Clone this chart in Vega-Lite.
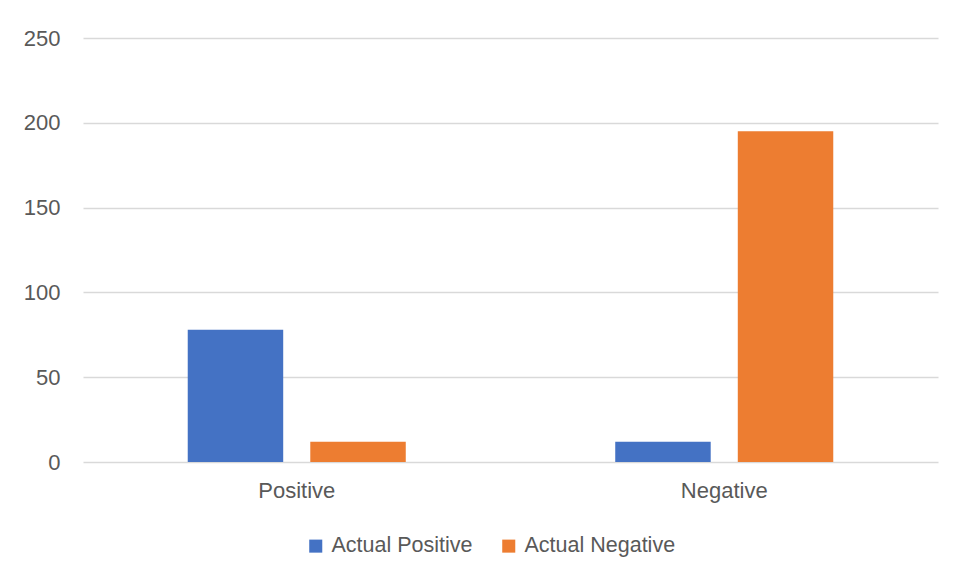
{
  "$schema": "https://vega.github.io/schema/vega-lite/v6.json",
  "width": 855,
  "height": 424,
  "autosize": {"type": "none"},
  "padding": {"left": 83, "top": 38, "right": 16, "bottom": 118},
  "background": "white",
  "data": {
    "values": [
      {"predicted": "Positive", "series": "Actual Positive", "count": 78},
      {"predicted": "Positive", "series": "Actual Negative", "count": 12},
      {"predicted": "Negative", "series": "Actual Positive", "count": 12},
      {"predicted": "Negative", "series": "Actual Negative", "count": 195}
    ]
  },
  "mark": {"type": "bar"},
  "encoding": {
    "x": {
      "field": "predicted",
      "type": "nominal",
      "sort": ["Positive", "Negative"],
      "scale": {"paddingInner": 0.49, "paddingOuter": 0.245},
      "axis": {
        "title": null,
        "labelAngle": 0,
        "ticks": false,
        "domain": false,
        "labelPadding": 18,
        "labelFont": "Liberation Sans",
        "labelFontSize": 22,
        "labelColor": "#595959"
      }
    },
    "xOffset": {
      "field": "series",
      "type": "nominal",
      "sort": ["Actual Positive", "Actual Negative"],
      "scale": {"paddingInner": 0.221, "paddingOuter": 0}
    },
    "y": {
      "field": "count",
      "type": "quantitative",
      "scale": {"domain": [0, 250], "nice": false},
      "axis": {
        "title": null,
        "values": [0, 50, 100, 150, 200, 250],
        "ticks": false,
        "domain": false,
        "labelPadding": 23,
        "labelFont": "Liberation Sans",
        "labelFontSize": 22,
        "labelColor": "#595959",
        "gridColor": "#d9d9d9",
        "gridWidth": 1.3
      }
    },
    "color": {
      "field": "series",
      "type": "nominal",
      "sort": ["Actual Positive", "Actual Negative"],
      "scale": {"domain": ["Actual Positive", "Actual Negative"], "range": ["#4472C4", "#ED7D31"]},
      "legend": {
        "title": null,
        "orient": "none",
        "legendX": 222,
        "legendY": 497,
        "direction": "horizontal",
        "symbolType": "square",
        "symbolSize": 170,
        "symbolStrokeWidth": 0,
        "labelFont": "Liberation Sans",
        "labelFontSize": 21.5,
        "labelColor": "#595959",
        "labelOffset": 5,
        "columnPadding": 25
      }
    }
  },
  "config": {
    "view": {"stroke": null}
  }
}
